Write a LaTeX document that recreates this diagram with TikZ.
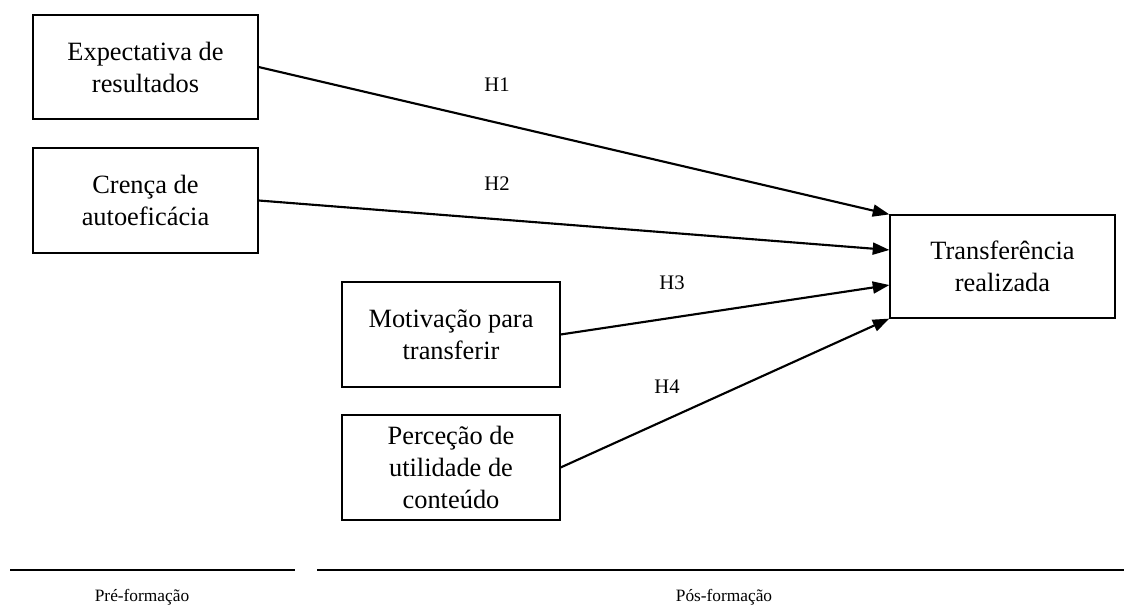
\documentclass[tikz,border=0pt]{standalone}
\usepackage{fontspec}
\setmainfont{Liberation Serif}
\usetikzlibrary{arrows.meta,calc}
\begin{document}
\begin{tikzpicture}[x=0.75pt,y=-0.75pt,
  box/.style={draw, line width=0.9pt, align=center, inner sep=2pt,
    font=\fontsize{19.8}{24}\selectfont},
  hyp/.style={font=\fontsize{15.5}{17}\selectfont},
  phase/.style={font=\fontsize{13}{15}\selectfont},
  link/.style={line width=1.6pt, -{Triangle[length=12.5pt,width=9pt]}},
  rule/.style={line width=0.9pt}]
\useasboundingbox (0,0) rectangle (1124,605);

% antecedent variables
\node[box, minimum width=168.75pt, minimum height=78pt] (exp) at (145.5,67)
  {Expectativa de\\resultados};
\node[box, minimum width=168.75pt, minimum height=78.75pt] (cre) at (145.5,200.5)
  {Crença de\\autoeficácia};
\node[box, minimum width=163.5pt, minimum height=78.75pt] (mot) at (451,334.5)
  {Motivação para\\transferir};
\node[box, minimum width=163.5pt, minimum height=78.75pt] (per) at (451,467.5)
  {Perceção de\\utilidade de\\conteúdo};

% outcome
\node[box, minimum width=168.75pt, minimum height=77.25pt] (tra) at (1002.5,266.5)
  {Transferência\\realizada};

% hypothesised paths
\coordinate (t1) at (tra.north west);
\coordinate (t2) at ([yshift=12.4pt]tra.west);
\coordinate (t3) at ([yshift=-13.9pt]tra.west);
\coordinate (t4) at (tra.south west);
\draw[link] (exp.east) -- (t1);
\draw[link] (cre.east) -- (t2);
\draw[link] (mot.east) -- (t3);
\draw[link] (per.east) -- (t4);

\node[hyp] (h1) at (497,85) {H1};
\node[hyp] (h2) at (497,184) {H2};
\node[hyp] (h3) at (672,283) {H3};
\node[hyp] (h4) at (667,387) {H4};

% phases
\draw[rule] (10,570) -- (295,570);
\draw[rule] (317,570) -- (1124,570);
\node[phase] (pre) at (142,597) {Pré-formação};
\node[phase] (pos) at (724,597) {Pós-formação};
\end{tikzpicture}
\end{document}
